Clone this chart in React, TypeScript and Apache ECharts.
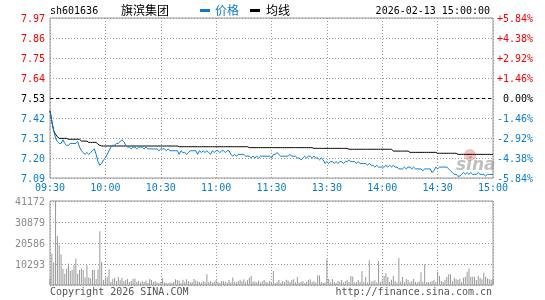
import React, { useEffect, useRef } from "react";
import * as echarts from "echarts";

const STOCK_CODE = "sh601636";
const STOCK_NAME = "旗滨集团";
const DATE_TEXT = "2026-02-13 15:00:00";
const PREV_CLOSE = 7.53;
const PRICE_MIN = 7.09;
const PRICE_MAX = 7.97;
const PCT_MAX = 5.84;
const PCT_STEP = 1.46;
const VOL_MAX = 41172;
const VOL_STEP = 10293;
const TIME_LABELS = ["09:30", "10:00", "10:30", "11:00", "11:30", "13:30", "14:00", "14:30", "15:00"];

const PRICE = [
  7.46, 7.40, 7.35, 7.31, 7.29, 7.28, 7.28, 7.30, 7.28, 7.27,
  7.27, 7.28, 7.28, 7.28, 7.28, 7.29, 7.26, 7.24, 7.23, 7.22,
  7.23, 7.22, 7.23, 7.24, 7.25, 7.22, 7.18, 7.16, 7.17, 7.19,
  7.20, 7.22, 7.24, 7.26, 7.27, 7.27, 7.28, 7.28, 7.29, 7.30,
  7.29, 7.27, 7.26, 7.26, 7.25, 7.26, 7.26, 7.25, 7.26, 7.26,
  7.26, 7.25, 7.26, 7.25, 7.25, 7.25, 7.25, 7.25, 7.25, 7.24,
  7.25, 7.25, 7.25, 7.24, 7.25, 7.24, 7.24, 7.24, 7.24, 7.24,
  7.22, 7.24, 7.23, 7.23, 7.22, 7.23, 7.24, 7.24, 7.24, 7.24,
  7.22, 7.24, 7.23, 7.24, 7.23, 7.24, 7.23, 7.22, 7.24, 7.23,
  7.24, 7.24, 7.23, 7.24, 7.24, 7.23, 7.24, 7.24, 7.22, 7.21,
  7.22, 7.21, 7.22, 7.22, 7.22, 7.22, 7.21, 7.21, 7.21, 7.20,
  7.21, 7.20, 7.21, 7.20, 7.21, 7.21, 7.21, 7.21, 7.21, 7.21,
  7.20, 7.22, 7.22, 7.23, 7.22, 7.21, 7.21, 7.21, 7.21, 7.21,
  7.22, 7.21, 7.21, 7.21, 7.20, 7.20, 7.19, 7.20, 7.21, 7.20,
  7.21, 7.21, 7.20, 7.21, 7.20, 7.20, 7.19, 7.20, 7.19, 7.17,
  7.18, 7.17, 7.18, 7.18, 7.17, 7.18, 7.17, 7.18, 7.18, 7.17,
  7.18, 7.18, 7.19, 7.18, 7.18, 7.18, 7.17, 7.18, 7.17, 7.17,
  7.17, 7.17, 7.16, 7.17, 7.16, 7.16, 7.15, 7.16, 7.15, 7.15,
  7.15, 7.15, 7.16, 7.15, 7.16, 7.15, 7.16, 7.15, 7.15, 7.14,
  7.14, 7.14, 7.15, 7.14, 7.15, 7.15, 7.14, 7.15, 7.14, 7.14,
  7.14, 7.14, 7.13, 7.14, 7.14, 7.14, 7.14, 7.12, 7.13, 7.15,
  7.14, 7.15, 7.15, 7.15, 7.15, 7.15, 7.14, 7.13, 7.12, 7.11,
  7.11, 7.10, 7.10, 7.11, 7.12, 7.11, 7.12, 7.11, 7.12, 7.11,
  7.11, 7.11, 7.12, 7.11, 7.11, 7.11, 7.10, 7.11, 7.11, 7.11, 7.11,
];

const AVG = [
  7.46, 7.40, 7.35, 7.33, 7.317, 7.308, 7.308, 7.308, 7.308, 7.308,
  7.303, 7.303, 7.303, 7.303, 7.303, 7.303, 7.303, 7.293, 7.293, 7.293,
  7.293, 7.286, 7.286, 7.286, 7.286, 7.286, 7.275, 7.27, 7.266, 7.266,
  7.266, 7.266, 7.266, 7.266, 7.266, 7.266, 7.266, 7.266, 7.266, 7.266,
  7.266, 7.266, 7.266, 7.266, 7.266, 7.266, 7.266, 7.266, 7.266, 7.266,
  7.266, 7.266, 7.266, 7.266, 7.266, 7.266, 7.266, 7.266, 7.266, 7.266,
  7.266, 7.266, 7.266, 7.266, 7.266, 7.266, 7.266, 7.266, 7.266, 7.266,
  7.262, 7.262, 7.262, 7.262, 7.262, 7.262, 7.262, 7.262, 7.262, 7.262,
  7.262, 7.262, 7.262, 7.262, 7.262, 7.262, 7.262, 7.262, 7.262, 7.262,
  7.262, 7.262, 7.262, 7.262, 7.262, 7.262, 7.262, 7.262, 7.262, 7.262,
  7.262, 7.262, 7.262, 7.262, 7.262, 7.262, 7.262, 7.262, 7.257, 7.257,
  7.257, 7.257, 7.257, 7.257, 7.257, 7.257, 7.257, 7.257, 7.257, 7.257,
  7.257, 7.257, 7.257, 7.257, 7.257, 7.257, 7.257, 7.257, 7.257, 7.257,
  7.257, 7.257, 7.257, 7.257, 7.257, 7.257, 7.257, 7.257, 7.257, 7.257,
  7.257, 7.257, 7.257, 7.253, 7.253, 7.253, 7.253, 7.253, 7.253, 7.253,
  7.253, 7.253, 7.253, 7.253, 7.253, 7.253, 7.253, 7.253, 7.253, 7.253,
  7.253, 7.253, 7.248, 7.248, 7.248, 7.248, 7.248, 7.248, 7.248, 7.248,
  7.248, 7.248, 7.248, 7.248, 7.248, 7.248, 7.248, 7.248, 7.248, 7.248,
  7.248, 7.248, 7.248, 7.248, 7.248, 7.248, 7.238, 7.238, 7.238, 7.238,
  7.238, 7.238, 7.238, 7.238, 7.238, 7.231, 7.231, 7.231, 7.231, 7.231,
  7.231, 7.231, 7.231, 7.231, 7.231, 7.231, 7.231, 7.231, 7.231, 7.231,
  7.226, 7.226, 7.226, 7.226, 7.226, 7.226, 7.226, 7.226, 7.226, 7.226,
  7.226, 7.22, 7.22, 7.22, 7.22, 7.22, 7.22, 7.22, 7.22, 7.22,
  7.22, 7.22, 7.22, 7.22, 7.22, 7.22, 7.22, 7.22, 7.22, 7.22, 7.22,
];

const VOLUME = [
  3200, 15500, 11000, 41172, 24000, 19500, 15000, 8000, 5500, 8000,
  10500, 7000, 7500, 9700, 13000, 5500, 7300, 8100, 7300, 3700,
  9700, 3700, 3200, 7300, 7300, 2900, 7600, 26300, 11300, 2500,
  3500, 4000, 7700, 1500, 3000, 3500, 2000, 4000, 2500, 3500,
  2000, 2500, 3000, 1500, 2000, 3000, 3200, 1500, 2000, 1200,
  1800, 1500, 2200, 1000, 3000, 2500, 1500, 2000, 1200, 1000,
  1500, 3300, 1200, 1000, 800, 1200, 1000, 1500, 2800, 2500,
  2200, 1000, 2600, 1500, 2800, 2000, 1200, 1500, 3000, 2200,
  1800, 1500, 1200, 2000, 1500, 5300, 1500, 1800, 1200, 1600,
  2400, 1500, 1000, 2000, 1800, 1600, 1200, 2500, 1400, 3700,
  1600, 1300, 2000, 2600, 1800, 2800, 1500, 2300, 3500, 4400,
  1600, 1700, 1400, 2200, 1200, 1800, 2500, 1500, 1200, 2000,
  1500, 6900, 1000, 1500, 2500, 1000, 1800, 1500, 2600, 2200,
  1500, 2500, 2800, 1400, 3900, 1200, 1600, 2000, 1000, 1500,
  2500, 2800, 1500, 1800, 1200, 4800, 4600, 1500, 1000, 1200,
  12600, 2900, 1200, 2900, 1500, 1000, 2000, 1500, 2500, 1200,
  1800, 2600, 1500, 4400, 4200, 1200, 1500, 2400, 1600, 6800,
  1500, 3900, 1200, 12100, 1600, 1800, 2300, 1200, 11800, 1500,
  2200, 4400, 5800, 3900, 1500, 2600, 4400, 1800, 1200, 13200,
  1600, 3900, 1500, 2900, 2500, 1400, 2000, 2900, 1500, 1200,
  1800, 6300, 1500, 10200, 1300, 1500, 1500, 2000, 2500, 1600,
  6500, 4400, 2000, 1500, 2600, 3900, 5300, 5300, 1800, 3500,
  2900, 2500, 2900, 1500, 3500, 4000, 6500, 8100, 4100, 4100,
  4100, 2500, 4400, 3500, 2800, 6000, 4100, 3200, 3000, 2500, 3000,
];

const BLUE = "#0b7bd1";
const RED = "#ff0000";
const MONO = "DejaVu Sans Mono";
const CJK = "Noto Sans CJK SC";

const signColor = (val: any) => {
  const n = Number(val);
  if (n > 1e-6) return RED;
  if (n < -1e-6) return BLUE;
  return "#000";
};

const dotted = { color: "#999", type: [1, 2], width: 1 };

export default function App() {
  const ref = useRef<HTMLDivElement>(null);
  useEffect(() => {
    if (!ref.current) return;
    const chart = echarts.init(ref.current, null, { renderer: "svg" });
    const priceData = PRICE.map((p, i) => [i, p]);
    const avgData = AVG.map((p, i) => [i, p]);
    const volData = VOLUME.map((v, i) => [i, v]);
    const timeFmt = (v: number) => TIME_LABELS[Math.round(v / 30)] || "";
    const option: any = {
      animation: false,
      grid: [
        { left: 50, top: 18, width: 443, height: 160, show: true, borderColor: "#999", borderWidth: 1, backgroundColor: "transparent" },
        { left: 50, top: 201, width: 443, height: 84, show: true, borderColor: "#999", borderWidth: 1, backgroundColor: "transparent" },
      ],
      xAxis: [
        {
          type: "value", gridIndex: 0, min: 0, max: 240, interval: 30,
          axisLine: { show: false }, axisTick: { show: false },
          axisLabel: { formatter: timeFmt, color: BLUE, fontFamily: MONO, fontSize: 10, margin: 4 },
          splitLine: { show: true, lineStyle: dotted },
        },
        {
          type: "value", gridIndex: 1, min: 0, max: 240, interval: 30,
          axisLine: { show: false }, axisTick: { show: false },
          axisLabel: { show: false },
          splitLine: { show: true, lineStyle: dotted },
        },
      ],
      yAxis: [
        { type: "value", gridIndex: 0, min: PRICE_MIN, max: PRICE_MAX, show: false, position: "left" },
        {
          type: "value", gridIndex: 0, min: -PCT_MAX, max: PCT_MAX, interval: PCT_STEP, position: "left",
          axisLine: { show: false }, axisTick: { show: false },
          axisLabel: {
            formatter: (v: number) => (PREV_CLOSE * (1 + v / 100)).toFixed(2),
            color: signColor, fontFamily: MONO, fontSize: 10, margin: 5,
          },
          splitLine: { show: true, lineStyle: dotted },
        },
        {
          type: "value", gridIndex: 0, min: -PCT_MAX, max: PCT_MAX, interval: PCT_STEP, position: "right",
          axisLine: { show: false }, axisTick: { show: false },
          axisLabel: {
            formatter: (v: number) => {
              if (Math.abs(v) < 1e-6) return "\u00a00.00%";
              return (v > 0 ? "+" : "") + v.toFixed(2) + "%";
            },
            color: signColor, fontFamily: MONO, fontSize: 10, margin: 4,
          },
          splitLine: { show: false },
        },
        {
          type: "value", gridIndex: 1, min: 0, max: VOL_MAX, interval: VOL_STEP, position: "left",
          axisLine: { show: false }, axisTick: { show: false },
          axisLabel: {
            formatter: (v: number) => (v === 0 ? "" : String(v)),
            color: "#8c8c8c", fontFamily: MONO, fontSize: 10, margin: 5,
          },
          splitLine: { show: true, lineStyle: dotted },
        },
      ],
      series: [
        {
          type: "line", name: "价格", xAxisIndex: 0, yAxisIndex: 0, data: priceData,
          showSymbol: false, symbol: "none", lineStyle: { color: BLUE, width: 1 }, itemStyle: { color: BLUE }, z: 4,
          markLine: {
            silent: true, symbol: ["none", "none"], label: { show: false },
            lineStyle: { color: "#000", type: [3, 3], width: 1 },
            data: [{ yAxis: PREV_CLOSE }],
          },
        },
        {
          type: "line", name: "均线", xAxisIndex: 0, yAxisIndex: 0, data: avgData,
          showSymbol: false, symbol: "none", lineStyle: { color: "#000", width: 1 }, itemStyle: { color: "#000" }, z: 3,
        },
        {
          type: "bar", xAxisIndex: 1, yAxisIndex: 3, data: volData,
          barWidth: 1, itemStyle: { color: "#999" },
        },
      ],
      graphic: [
        { type: "text", left: 50, top: 5, style: { text: STOCK_CODE, fill: "#000", font: `10px '${MONO}'` } },
        { type: "text", left: 121, top: 3, style: { text: STOCK_NAME, fill: "#000", font: `12px '${CJK}'` } },
        { type: "rect", shape: { x: 200, y: 9, width: 10, height: 3 }, style: { fill: BLUE } },
        { type: "text", left: 215, top: 3, style: { text: "价格", fill: BLUE, font: `12px '${CJK}'` } },
        { type: "rect", shape: { x: 250, y: 9, width: 10, height: 3 }, style: { fill: "#000" } },
        { type: "text", left: 266, top: 3, style: { text: "均线", fill: "#000", font: `12px '${CJK}'` } },
        { type: "text", right: 55, top: 5, style: { text: DATE_TEXT, fill: "#000", font: `10px '${MONO}'` } },
        { type: "text", left: 50, top: 286, style: { text: "Copyright 2026 SINA.COM", fill: "#555", font: `10px '${MONO}'` } },
        { type: "text", right: 53, top: 286, style: { text: "http://finance.sina.com.cn", fill: "#555", font: `10px '${MONO}'` } },
        { type: "circle", shape: { cx: 470, cy: 155, r: 6 }, style: { fill: "rgba(235,120,120,0.45)" }, z: 1 },
        { type: "text", left: 456, top: 155, style: { text: "sina", fill: "rgba(150,150,150,0.6)", font: `italic bold 17px 'DejaVu Sans'` }, z: 1 },
      ],
    };
    chart.setOption(option);
    return () => chart.dispose();
  }, []);
  return <div ref={ref} style={{ position: "fixed", left: 0, top: 0, width: 545, height: 300 }} />;
}
